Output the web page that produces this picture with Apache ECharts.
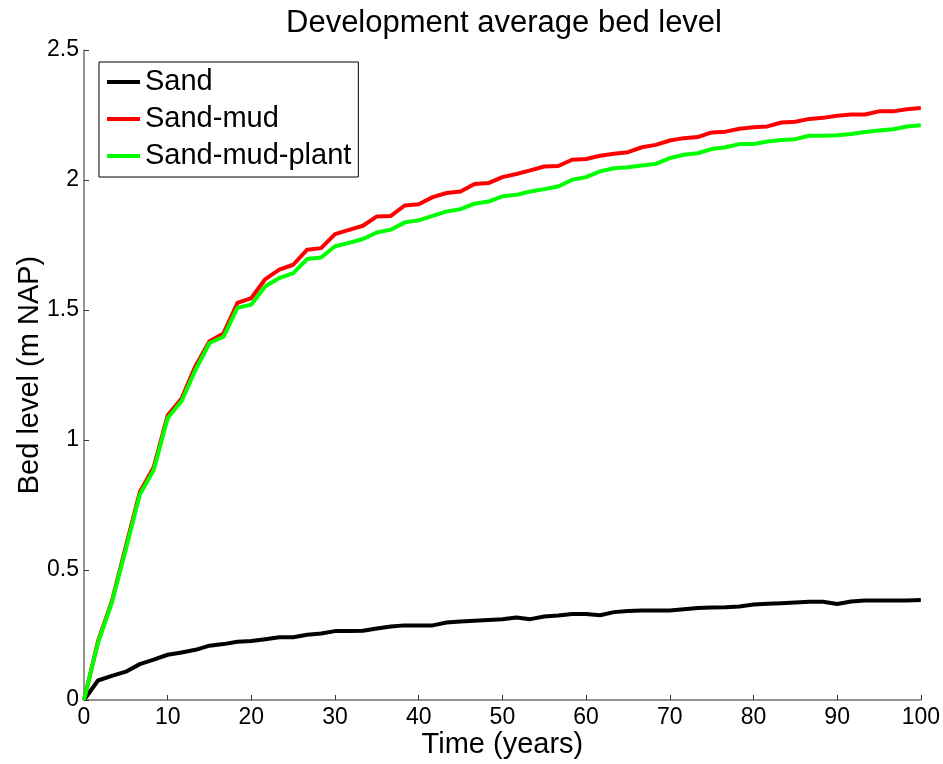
<!DOCTYPE html>
<html>
<head>
<meta charset="utf-8">
<script src="https://cdn.jsdelivr.net/npm/echarts@6/dist/echarts.min.js"></script>
<style>
  html, body { margin: 0; padding: 0; background: #fff; }
  #chart { width: 943px; height: 764px; }
</style>
</head>
<body>
<div id="chart"></div>
<script>
// Model output times (years), one record every 20 months
const years = [
  0, 1.67, 3.33, 5, 6.67, 8.33, 10, 11.67, 13.33, 15, 16.67, 18.33, 20, 21.67, 23.33,
  25, 26.67, 28.33, 30, 31.67, 33.33, 35, 36.67, 38.33, 40, 41.67, 43.33, 45, 46.67,
  48.33, 50, 51.67, 53.33, 55, 56.67, 58.33, 60, 61.67, 63.33, 65, 66.67, 68.33, 70,
  71.67, 73.33, 75, 76.67, 78.33, 80, 81.67, 83.33, 85, 86.67, 88.33, 90, 91.67, 93.33,
  95, 96.67, 98.33, 100
];

// Average bed level (m NAP) per scenario
const sand = [
  0, 0.075, 0.093, 0.109, 0.138, 0.155, 0.174, 0.183, 0.193, 0.209, 0.215, 0.224, 0.227,
  0.234, 0.241, 0.241, 0.251, 0.256, 0.265, 0.265, 0.266, 0.275, 0.283, 0.287, 0.287,
  0.287, 0.298, 0.302, 0.305, 0.308, 0.311, 0.317, 0.311, 0.321, 0.325, 0.331, 0.331,
  0.326, 0.338, 0.342, 0.344, 0.344, 0.344, 0.349, 0.354, 0.356, 0.357, 0.360, 0.367,
  0.370, 0.372, 0.375, 0.378, 0.378, 0.369, 0.379, 0.383, 0.383, 0.383, 0.383, 0.385
];
const sandMud = [
  0, 0.225, 0.38, 0.59, 0.80, 0.895, 1.095, 1.16, 1.285, 1.38, 1.41, 1.527, 1.546,
  1.619, 1.655, 1.674, 1.732, 1.738, 1.792, 1.808, 1.824, 1.860, 1.862, 1.902, 1.907,
  1.934, 1.950, 1.956, 1.985, 1.988, 2.011, 2.023, 2.037, 2.052, 2.054, 2.078, 2.081,
  2.093, 2.101, 2.107, 2.126, 2.135, 2.152, 2.161, 2.165, 2.183, 2.186, 2.197, 2.203,
  2.206, 2.221, 2.224, 2.235, 2.239, 2.247, 2.252, 2.252, 2.264, 2.264, 2.272, 2.277
];
const sandMudPlant = [
  0, 0.22, 0.375, 0.58, 0.79, 0.885, 1.085, 1.15, 1.27, 1.373, 1.397, 1.508, 1.521,
  1.591, 1.623, 1.642, 1.696, 1.702, 1.745, 1.758, 1.773, 1.798, 1.809, 1.837, 1.845,
  1.862, 1.879, 1.888, 1.909, 1.917, 1.937, 1.943, 1.956, 1.965, 1.975, 2.001, 2.011,
  2.033, 2.045, 2.049, 2.056, 2.062, 2.084, 2.097, 2.103, 2.119, 2.126, 2.138, 2.138,
  2.148, 2.154, 2.157, 2.170, 2.170, 2.172, 2.177, 2.185, 2.190, 2.195, 2.206, 2.211
];

const seriesNames = ['Sand', 'Sand-mud', 'Sand-mud-plant'];
const seriesColors = ['#000000', '#ff0000', '#00ff00'];
const seriesValues = [sand, sandMud, sandMudPlant];

const FONT = '"Liberation Sans", Arial, Helvetica, sans-serif';
const axisGray = '#707070';

const chart = echarts.init(document.getElementById('chart'), null, { renderer: 'canvas' });

chart.setOption({
  animation: false,
  backgroundColor: '#ffffff',
  textStyle: { fontFamily: FONT },
  title: {
    text: 'Development average bed level',
    left: 499,
    textAlign: 'center',
    top: 3,
    textStyle: { fontFamily: FONT, fontSize: 31, fontWeight: 'normal', color: '#000' }
  },
  legend: {
    orient: 'vertical',
    left: 99,
    top: 62,
    icon: 'rect',
    itemWidth: 33,
    itemHeight: 4,
    itemGap: 7,
    padding: [5, 7, 6, 8],
    borderColor: '#000',
    borderWidth: 1,
    backgroundColor: '#fff',
    textStyle: { fontFamily: FONT, fontSize: 29, color: '#000', lineHeight: 30 },
    data: seriesNames
  },
  grid: { left: 84, right: 22, top: 50, bottom: 62, containLabel: false },
  xAxis: {
    type: 'value',
    min: 0,
    max: 100,
    interval: 10,
    name: 'Time (years)',
    nameLocation: 'middle',
    nameGap: 30,
    nameMoveOverlap: false,
    nameTextStyle: { fontFamily: FONT, fontSize: 29, color: '#000' },
    axisLine: { show: true, onZero: false, lineStyle: { color: axisGray, width: 1.5 } },
    axisTick: { show: true, inside: true, length: 5, lineStyle: { color: '#333' } },
    axisLabel: { fontFamily: FONT, fontSize: 23, color: '#000', margin: 6 },
    splitLine: { show: false }
  },
  yAxis: {
    type: 'value',
    min: 0,
    max: 2.5,
    interval: 0.5,
    name: 'Bed level (m NAP)',
    nameLocation: 'middle',
    nameGap: 40,
    nameMoveOverlap: false,
    nameTextStyle: { fontFamily: FONT, fontSize: 29, color: '#000' },
    axisLine: { show: true, onZero: false, lineStyle: { color: axisGray, width: 1.5 } },
    axisTick: { show: true, inside: true, length: 5, lineStyle: { color: '#333' } },
    axisLabel: { fontFamily: FONT, fontSize: 23, color: '#000', margin: 5 },
    splitLine: { show: false }
  },
  series: seriesNames.map((name, k) => ({
    name: name,
    type: 'line',
    data: years.map((t, i) => [t, seriesValues[k][i]]),
    showSymbol: false,
    symbol: 'none',
    smooth: false,
    lineStyle: { color: seriesColors[k], width: 4, join: 'round' },
    itemStyle: { color: seriesColors[k] },
    z: 2 + k
  }))
});
</script>
</body>
</html>
